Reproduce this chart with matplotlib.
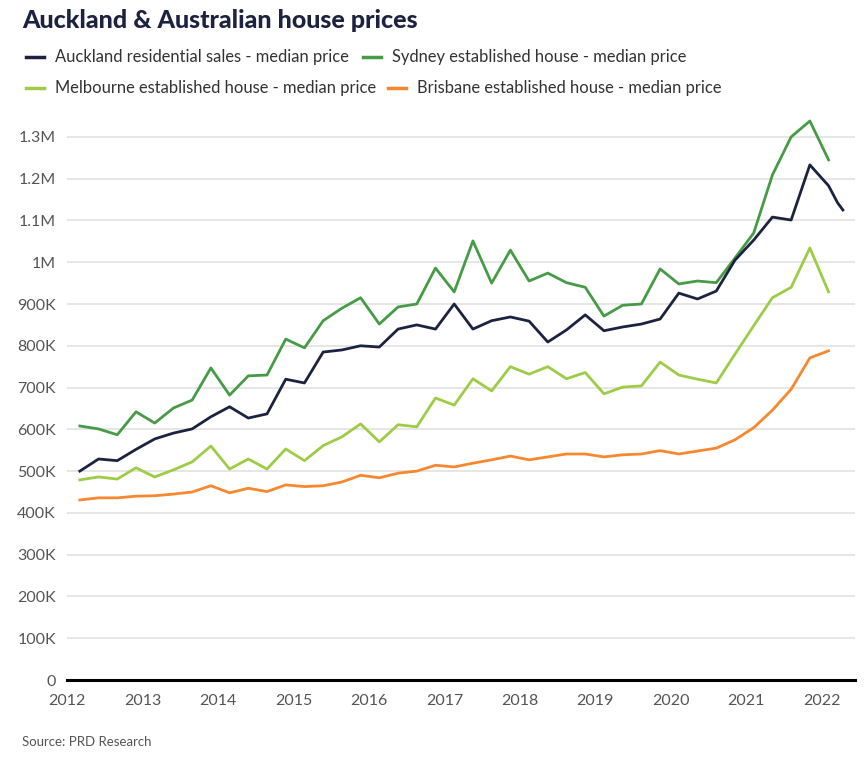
import numpy as np
import matplotlib
matplotlib.use("Agg")
import matplotlib.pyplot as plt
from matplotlib.lines import Line2D

# ---- data (values in thousands of dollars) ----
quarters = 2012.17 + 0.248 * np.arange(41)          # quarterly observation times
auckland_extra_t = [2022.21, 2022.28]                 # extra Auckland readings in 2022

auckland = [500, 529, 525, 552, 577, 591, 601, 630, 654, 627, 637, 720, 711, 785, 790,
            800, 797, 840, 850, 840, 900, 840, 860, 869, 859, 809, 838, 874, 836, 845,
            852, 864, 926, 912, 931, 1005, 1053, 1108, 1101, 1233, 1183]
auckland_extra = [1142, 1125]

sydney = [608, 601, 587, 642, 615, 651, 670, 747, 682, 728, 730, 816, 795, 860, 890,
          915, 852, 893, 900, 986, 929, 1051, 950, 1029, 955, 974, 951, 940, 871, 897,
          900, 984, 948, 955, 951, 1010, 1070, 1209, 1300, 1338, 1245]

melbourne = [479, 486, 481, 508, 486, 503, 522, 560, 505, 529, 505, 553, 525, 561, 582,
             613, 570, 611, 606, 675, 658, 721, 692, 750, 732, 750, 721, 736, 685, 701,
             704, 761, 730, 720, 711, 780, 848, 915, 940, 1034, 929]

brisbane = [431, 436, 436, 440, 441, 445, 450, 465, 448, 459, 451, 467, 463, 465, 474,
            490, 484, 495, 500, 514, 510, 519, 527, 536, 527, 534, 541, 541, 534, 539,
            541, 549, 541, 548, 555, 575, 604, 646, 696, 771, 788]

series_names = ["Auckland residential sales - median price",
                "Sydney established house - median price",
                "Melbourne established house - median price",
                "Brisbane established house - median price"]
colors = ["#1c2340", "#469b46", "#9dcc45", "#f7882f"]

year_ticks = list(range(2012, 2023))
y_ticks = [0, 100, 200, 300, 400, 500, 600, 700, 800, 900, 1000, 1100, 1200, 1300]
y_labels = ["0", "100K", "200K", "300K", "400K", "500K", "600K", "700K", "800K",
            "900K", "1M", "1.1M", "1.2M", "1.3M"]

title = "Auckland & Australian house prices"
source = "Source: PRD Research"

# ---- figure ----
plt.rcParams['font.family'] = ['Lato', 'DejaVu Sans']
W, H = 867, 763
fig = plt.figure(figsize=(W / 100, H / 100), dpi=100)
ax = fig.add_axes([67 / W, 1 - 680 / H, (855 - 67) / W, (680 - 116) / H])

lw = 2.0
ax.plot(list(quarters) + auckland_extra_t, auckland + auckland_extra, color=colors[0], lw=lw, zorder=5)
ax.plot(quarters, sydney, color=colors[1], lw=lw, zorder=4)
ax.plot(quarters, melbourne, color=colors[2], lw=lw, zorder=3)
ax.plot(quarters, brisbane, color=colors[3], lw=lw, zorder=3)

ax.set_xlim(2012, 2022.44)
ax.set_ylim(0, 1350)
ax.set_xticks(year_ticks)
ax.set_xticklabels([str(y) for y in year_ticks])
ax.set_yticks(y_ticks)
ax.set_yticklabels(y_labels)
ax.tick_params(axis='both', length=0, labelsize=11.5, labelcolor="#555555")
ax.tick_params(axis='y', pad=8)
ax.tick_params(axis='x', pad=10)
ax.grid(axis='y', color="#e2e2e2", lw=1.2)
ax.set_axisbelow(True)
for s in ["top", "right", "left"]:
    ax.spines[s].set_visible(False)
ax.spines["bottom"].set_color("black")
ax.spines["bottom"].set_linewidth(2.2)
ax.spines["bottom"].set_zorder(6)

# ---- title ----
fig.text(22 / W, 1 - 20 / H, title, fontsize=18, fontweight='black', color="#1c2340",
         ha='left', va='center')

# ---- legend (flowing layout) ----
leg_pos = [(26, 55, 57), (363, 392, 57), (26, 55, 88), (388, 417, 88)]
for (mx, tx, py), name, c in zip(leg_pos, series_names, colors):
    yf = 1 - py / H
    fig.add_artist(Line2D([mx / W, (mx + 18) / W], [yf, yf], color=c, lw=2.5,
                          transform=fig.transFigure))
    fig.text(tx / W, yf, name, fontsize=11.9, color="#333333", ha='left', va='center')

# ---- source ----
fig.text(22 / W, 1 - 742 / H, source, fontsize=9.5, color="#555555", ha='left', va='center')

fig.savefig("out.png", dpi=100)
